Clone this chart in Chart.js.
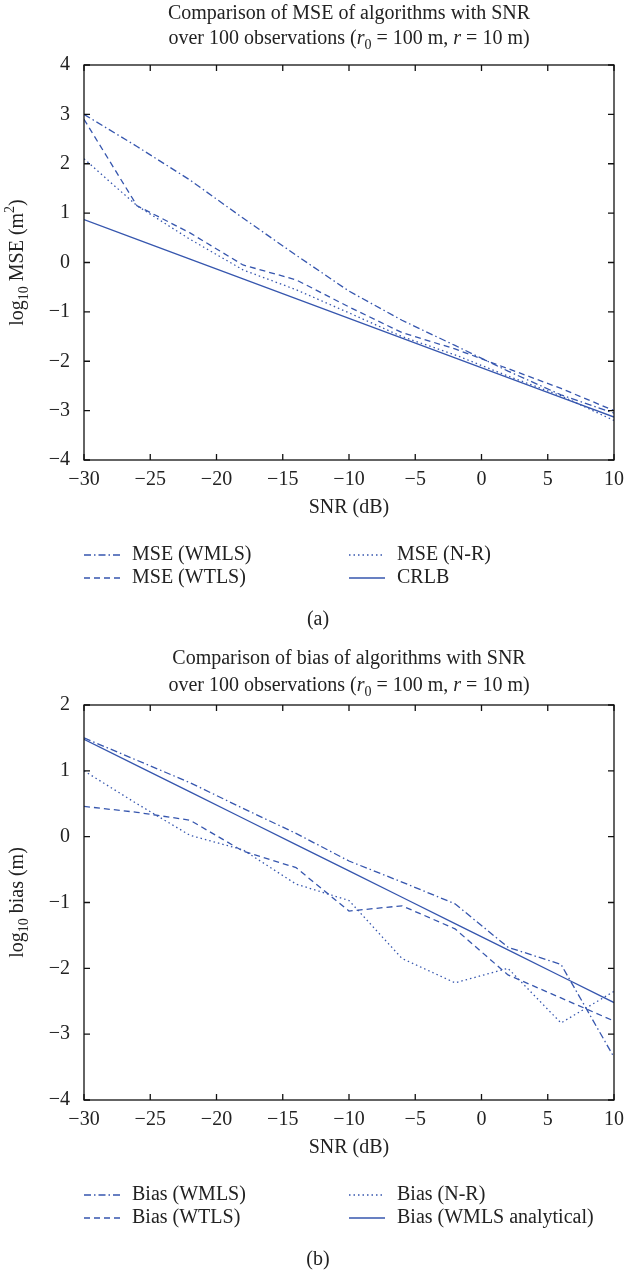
<!DOCTYPE html>
<html>
<head>
<meta charset="utf-8">
<script src="https://cdn.jsdelivr.net/npm/chart.js@4/dist/chart.umd.min.js"></script>
<style>
    body { margin: 0; background: #fff; overflow: hidden; }
    .panel { position: absolute; left: 0; width: 641px; }
</style>
</head>
<body>
<div class="panel" style="top:0;height:638px"><canvas id="mse-chart"></canvas></div>
<div class="panel" style="top:640px;height:638px"><canvas id="bias-chart"></canvas></div>
<script>
// SNR points (dB) and axis ticks
let snrList = [-30, -26, -22, -18, -14, -10, -6, -2, 2, 6, 10];
let xTickList = [-30, -25, -20, -15, -10, -5, 0, 5, 10];
let mseYTicks = [-4, -3, -2, -1, 0, 1, 2, 3, 4];
let biasYTicks = [-4, -3, -2, -1, 0, 1, 2];

// (a) log10 MSE
let mseLabels = ['MSE (WMLS)', 'MSE (WTLS)', 'MSE (N-R)', 'CRLB'];
let mseWmls = [3.0, 2.35, 1.67, 0.9, 0.15, -0.58, -1.17, -1.68, -2.2, -2.68, -3.05];
let mseWtls = [2.9, 1.15, 0.6, -0.05, -0.35, -0.9, -1.42, -1.75, -2.15, -2.55, -3.0];
let mseNr = [2.1, 1.15, 0.47, -0.15, -0.55, -1.02, -1.5, -1.87, -2.3, -2.7, -3.2];
let mseCrlb = [0.87, 0.47, 0.07, -0.33, -0.73, -1.13, -1.53, -1.93, -2.33, -2.73, -3.13];

// (b) log10 bias
let biasLabels = ['Bias (WMLS)', 'Bias (WTLS)', 'Bias (N-R)', 'Bias (WMLS analytical)'];
let biasWmls = [1.5, 1.16, 0.82, 0.43, 0.05, -0.37, -0.69, -1.02, -1.68, -1.94, -3.35];
let biasWtls = [0.46, 0.37, 0.25, -0.22, -0.47, -1.13, -1.05, -1.4, -2.1, -2.45, -2.8];
let biasNr = [1.0, 0.5, 0.02, -0.2, -0.72, -0.97, -1.85, -2.22, -2.0, -2.83, -2.35];
let biasAnalytical = [1.48, 1.08, 0.68, 0.28, -0.12, -0.52, -0.92, -1.32, -1.72, -2.12, -2.52];

const FONT = "'Liberation Serif', 'DejaVu Serif', serif";
const BLUE = '#3656ae';
const INK = '#222';
const SIZE = 20;
// dash-dot, dashed, dotted, solid
const dashList = [[7, 3, 1.5, 3], [6, 4], [1.5, 3], []];

Chart.defaults.font.family = FONT;
Chart.defaults.font.size = SIZE;
Chart.defaults.color = INK;

function minus(v) {
    return v < 0 ? '\u2212' + Math.abs(v) : String(v);
}

// draws text pieces: n = normal, i = italic, sub / sup = small shifted
function drawRich(ctx, parts, x, y, size) {
    let widths = parts.map(function (p) {
        ctx.font = fontFor(p[1], size);
        return ctx.measureText(p[0]).width;
    });
    let total = widths.reduce(function (a, b) { return a + b; }, 0);
    let cx = x - total / 2;
    ctx.textAlign = 'left';
    parts.forEach(function (p, i) {
        ctx.font = fontFor(p[1], size);
        let dy = p[1] == 'sub' ? size * 0.3 : (p[1] == 'sup' ? -size * 0.4 : 0);
        ctx.fillText(p[0], cx, y + dy);
        cx += widths[i];
    });
}
function fontFor(style, size) {
    if (style == 'i') return 'italic ' + size + 'px ' + FONT;
    if (style == 'sub' || style == 'sup') return Math.round(size * 0.7) + 'px ' + FONT;
    return size + 'px ' + FONT;
}

// frame with inward ticks, titles, legend and caption
const decor = {
    id: 'decor',
    afterDraw(chart, args, opts) {
        let ctx = chart.ctx;
        let a = chart.chartArea;
        let xs = chart.scales.x;
        let ys = chart.scales.y;
        ctx.save();
        ctx.strokeStyle = '#111';
        ctx.lineWidth = 1.3;
        ctx.setLineDash([]);
        ctx.strokeRect(a.left, a.top, a.right - a.left, a.bottom - a.top);
        ctx.beginPath();
        xTickList.forEach(function (v) {
            let px = xs.getPixelForValue(v);
            ctx.moveTo(px, a.bottom); ctx.lineTo(px, a.bottom - 6);
            ctx.moveTo(px, a.top); ctx.lineTo(px, a.top + 6);
        });
        opts.yTicks.forEach(function (v) {
            let py = ys.getPixelForValue(v);
            ctx.moveTo(a.left, py); ctx.lineTo(a.left + 6, py);
            ctx.moveTo(a.right, py); ctx.lineTo(a.right - 6, py);
        });
        ctx.stroke();

        ctx.fillStyle = INK;
        ctx.textBaseline = 'middle';
        let mid = (a.left + a.right) / 2;
        // title
        drawRich(ctx, [[opts.title, 'n']], mid, a.top - opts.titleGap[0], SIZE);
        drawRich(ctx, [['over 100 observations (', 'n'], ['r', 'i'], ['0', 'sub'], [' = 100 m, ', 'n'],
            ['r', 'i'], [' = 10 m)', 'n']], mid, a.top - opts.titleGap[1], SIZE);
        // y axis title
        ctx.save();
        ctx.translate(18, (a.top + a.bottom) / 2);
        ctx.rotate(-Math.PI / 2);
        drawRich(ctx, opts.yTitle, 0, 0, SIZE);
        ctx.restore();

        // legend, two columns
        chart.data.datasets.forEach(function (ds, i) {
            let col = Math.floor(i / 2);
            let row = i % 2;
            let x0 = col == 0 ? 84 : 349;
            let y0 = a.bottom + 95 + row * 23;
            ctx.strokeStyle = ds.borderColor;
            ctx.lineWidth = 1.4;
            ctx.setLineDash(ds.borderDash);
            ctx.beginPath();
            ctx.moveTo(x0, y0); ctx.lineTo(x0 + 36, y0);
            ctx.stroke();
            ctx.setLineDash([]);
            ctx.textAlign = 'left';
            ctx.font = SIZE + 'px ' + FONT;
            ctx.fillText(ds.label, x0 + 48, y0);
        });
        drawRich(ctx, [[opts.caption, 'n']], 318, a.bottom + 160, SIZE);
        ctx.restore();
    }
};

function makeChart(id, labels, seriesList, yTicks, title, titleGap, yTitle, caption) {
    let datasets = seriesList.map(function (values, i) {
        return {
            label: labels[i],
            data: values.map(function (v, j) { return { x: snrList[j], y: v }; }),
            borderColor: BLUE,
            borderWidth: 1.3,
            borderDash: dashList[i],
            pointRadius: 0,
            fill: false,
            tension: 0
        };
    });
    let tickFont = { family: FONT, size: SIZE };
    return new Chart(document.getElementById(id).getContext('2d'), {
        type: 'line',
        data: { datasets: datasets },
        options: {
            responsive: true,
            maintainAspectRatio: false,
            animation: false,
            layout: { padding: { top: 65, right: 27, bottom: 118, left: 0 } },
            plugins: {
                legend: { display: false },
                tooltip: { enabled: false },
                decor: { title: title, titleGap: titleGap, yTitle: yTitle, caption: caption, yTicks: yTicks }
            },
            scales: {
                x: {
                    type: 'linear', min: -30, max: 10,
                    afterBuildTicks: function (axis) { axis.ticks = xTickList.map(function (v) { return { value: v }; }); },
                    afterFit: function (axis) { axis.height = 60; },
                    grid: { display: false },
                    border: { display: false },
                    ticks: { padding: 0, maxRotation: 0, callback: minus, font: tickFont, color: INK },
                    title: { display: true, text: 'SNR (dB)', font: tickFont, color: INK, padding: { top: 9, bottom: 0 } }
                },
                y: {
                    type: 'linear', min: yTicks[0], max: yTicks[yTicks.length - 1],
                    afterBuildTicks: function (axis) { axis.ticks = yTicks.map(function (v) { return { value: v }; }); },
                    afterFit: function (axis) { axis.width = 84; },
                    grid: { display: false },
                    border: { display: false },
                    ticks: { padding: 6, callback: minus, font: tickFont, color: INK }
                }
            }
        },
        plugins: [decor]
    });
}

makeChart('mse-chart', mseLabels, [mseWmls, mseWtls, mseNr, mseCrlb], mseYTicks,
    'Comparison of MSE of algorithms with SNR', [51, 26],
    [['log', 'n'], ['10', 'sub'], [' MSE (m', 'n'], ['2', 'sup'], [')', 'n']], '(a)');
makeChart('bias-chart', biasLabels, [biasWmls, biasWtls, biasNr, biasAnalytical], biasYTicks,
    'Comparison of bias of algorithms with SNR', [46, 19],
    [['log', 'n'], ['10', 'sub'], [' bias (m)', 'n']], '(b)');
</script>
</body>
</html>
